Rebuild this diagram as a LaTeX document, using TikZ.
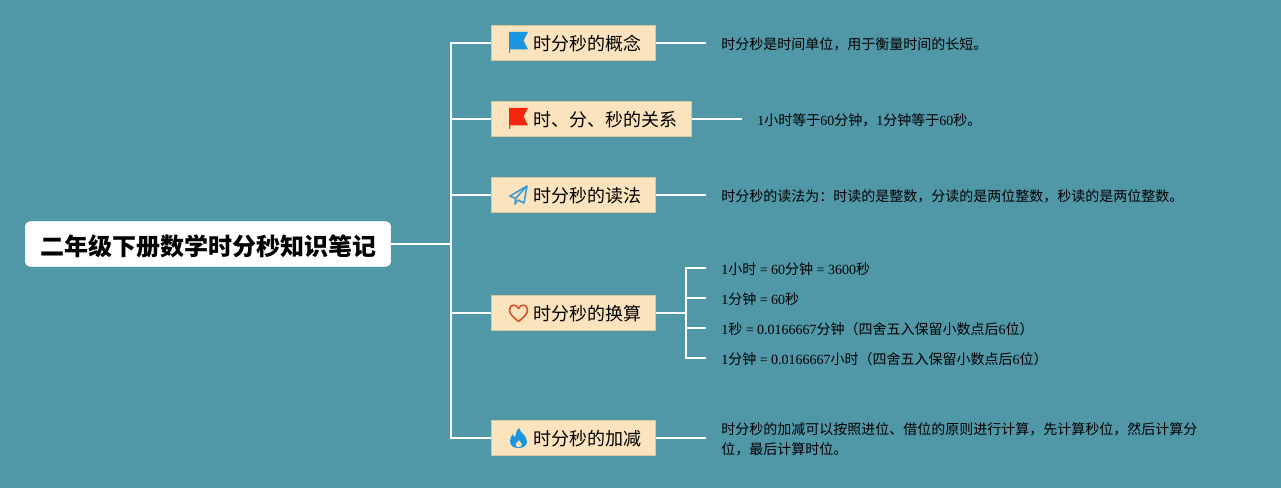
\documentclass[tikz,border=0pt]{standalone}
\usepackage{fontspec}
\setmainfont{Liberation Serif}
\newfontfamily\zhfont{Noto Sans CJK SC}
\newcommand{\zh}[1]{{\zhfont #1}}
\usetikzlibrary{positioning}

\definecolor{bgteal}{HTML}{5097A7}
\definecolor{boxfill}{HTML}{FBE3BE}
\definecolor{boxline}{HTML}{D9C795}
\definecolor{iconblue}{HTML}{1B95E0}
\definecolor{iconred}{HTML}{F5260D}
\definecolor{iconline}{HTML}{3F9BD0}
\definecolor{iconheart}{HTML}{D9502E}

\tikzset{
    rootbox/.style={rectangle, draw=white, fill=white, rounded corners=3.5pt, minimum width=274pt, minimum height=33.5pt, inner sep=0pt, text height=18pt, text depth=0pt, font=\zhfont\bfseries\fontsize{18}{22}\selectfont},
    branchbox/.style={rectangle, draw=boxline, fill=boxfill, line width=0.6pt, minimum height=26.25pt, inner xsep=10.9pt, inner ysep=0pt, text height=11.7pt, text depth=0pt, font=\zhfont\fontsize{13.5}{16}\selectfont},
    leafbox/.style={rectangle, inner xsep=11.25pt, inner ysep=0pt, align=left, text height=9.5pt, text depth=0pt, font=\fontsize{10.5}{15}\selectfont},
    link/.style={draw=white, line width=1.5pt},
    pics/flagicon/.style={code={
        \fill[#1] (18,-11) -- (37,-11) -- (32.5,-2.5) -- (37,6.5) -- (19,6.5) -- (19,10) -- (18,10) -- cycle;
    }},
    pics/planeicon/.style={code={
        \draw[iconline, line width=1.2pt, line join=round] (36,-9) -- (19,1) -- (24.5,3.5) -- (36,-9) -- (33,8) -- (27,5) -- (24,9) -- (24.5,3.5);
    }},
    pics/hearticon/.style={code={
        \draw[iconheart, line width=1.2pt, line join=round] (27.5,8.5) .. controls (22,4) and (18.5,1) .. (18.5,-3) .. controls (18.5,-9) and (25.5,-9.5) .. (27.5,-4.5) .. controls (29.5,-9.5) and (36.5,-9) .. (36.5,-3) .. controls (36.5,1) and (33,4) .. (27.5,8.5) -- cycle;
    }},
    pics/flameicon/.style={code={
        \fill[iconblue, even odd rule] (28,-10) .. controls (29,-5) and (36,-3) .. (36,4) .. controls (36,8) and (32,10) .. (27.5,10) .. controls (23,10) and (19,8) .. (19,3) .. controls (19,0) and (21,-3) .. (22,-4) .. controls (22.5,-2) and (23,-1) .. (24,-1) .. controls (25,-4) and (25,-7) .. (28,-10) -- cycle
        (28,2) .. controls (26,4) and (24.5,5) .. (24.5,7) .. controls (24.5,8.5) and (26,9.2) .. (27.5,9.2) .. controls (29,9.2) and (31,8.5) .. (31,6.5) .. controls (31,5) and (29,4) .. (28,2) -- cycle;
    }}
}

\begin{document}
\begin{tikzpicture}[x=0.75pt, y=-0.75pt]

        % Background
        \fill[bgteal] (0,0) rectangle (1281,488);
        \useasboundingbox (0,0) rectangle (1281,488);

        % Nodes
        \node (root) [rootbox] at (208,244) {二年级下册数学时分秒知识笔记};

        \node (b1) [branchbox, anchor=west] at (491,43) {\hspace*{20.3pt}时分秒的概念};
        \node (b2) [branchbox, anchor=west] at (491,119) {\hspace*{20.3pt}时、分、秒的关系};
        \node (b3) [branchbox, anchor=west] at (491,195) {\hspace*{20.3pt}时分秒的读法};
        \node (b4) [branchbox, anchor=west] at (491,313) {\hspace*{20.3pt}时分秒的换算};
        \node (b5) [branchbox, anchor=west] at (491,438) {\hspace*{20.3pt}时分秒的加减};

        \node (l1) [leafbox, anchor=west] at (706,43) {\zh{时分秒是时间单位，用于衡量时间的长短。}};
        \node (l2) [leafbox, anchor=west] at (742,119) {1\zh{小时等于}60\zh{分钟，}1\zh{分钟等于}60\zh{秒。}};
        \node (l3) [leafbox, anchor=west] at (706,195) {\zh{时分秒的读法为：时读的是整数，分读的是两位整数，秒读的是两位整数。}};
        \node (l4a) [leafbox, anchor=west] at (706,268) {1\zh{小时} = 60\zh{分钟} = 3600\zh{秒}};
        \node (l4b) [leafbox, anchor=west] at (706,298) {1\zh{分钟} = 60\zh{秒}};
        \node (l4c) [leafbox, anchor=west] at (706,328) {1\zh{秒} = 0.0166667\zh{分钟（四舍五入保留小数点后}6\zh{位）}};
        \node (l4d) [leafbox, anchor=west] at (706,358) {1\zh{分钟} = 0.0166667\zh{小时（四舍五入保留小数点后}6\zh{位）}};
        \node (l5) [leafbox, anchor=west, text height=24.5pt] at (706,438) {\zh{时分秒的加减可以按照进位、借位的原则进行计算，先计算秒位，然后计算分}\\\zh{位，最后计算时位。}};

        % Icons
        \pic at (b1.west) {flagicon=iconblue};
        \pic at (b2.west) {flagicon=iconred};
        \pic at (b3.west) {planeicon};
        \pic at (b4.west) {hearticon};
        \pic at (b5.west) {flameicon};

        % Connectors
        \coordinate (spine) at (451,244);
        \coordinate (fork) at (686,313);
        \draw[link, line width=1.2pt] (root.east) -- (spine);
        \draw[link] (spine) |- (b1.west);
        \draw[link] (spine) |- (b2.west);
        \draw[link] (spine) |- (b3.west);
        \draw[link] (spine) |- (b4.west);
        \draw[link] (spine) |- (b5.west);

        \draw[link] (b1.east) -- (l1.west);
        \draw[link] (b2.east) -- (l2.west);
        \draw[link] (b3.east) -- (l3.west);
        \draw[link] (b5.east) -- (l5.west);

        \draw[link] (b4.east) -- (fork);
        \draw[link] (fork) |- (l4a.west);
        \draw[link] (fork) |- (l4b.west);
        \draw[link] (fork) |- (l4c.west);
        \draw[link] (fork) |- (l4d.west);

    \end{tikzpicture}
\end{document}
